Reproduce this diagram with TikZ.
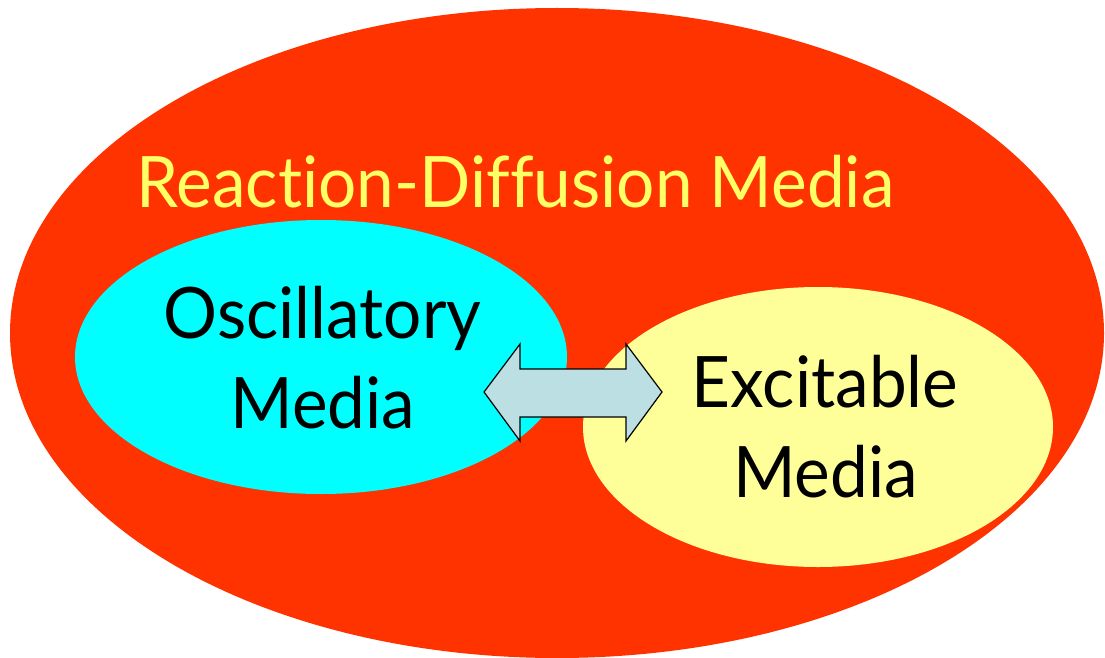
\documentclass[tikz,border=0pt]{standalone}
\usepackage{fontspec}
\usetikzlibrary{shapes.geometric}
\newfontfamily\gillfont[FakeStretch=0.95,Ligatures=NoCommon]{Lato}
\definecolor{rdred}{HTML}{FF3300}
\definecolor{osccyan}{HTML}{00FFFF}
\definecolor{excyellow}{HTML}{FFFF99}
\definecolor{titleyellow}{HTML}{FFFF66}
\definecolor{arrowfill}{HTML}{BBDFE3}
\tikzset{
  region/.style={ellipse, inner sep=0pt, draw=none},
  label text/.style={font=\gillfont\fontsize{71}{80}\selectfont, anchor=base, inner sep=0pt},
}
\begin{document}
\begin{tikzpicture}[x=1pt,y=-1pt]
\useasboundingbox (0,0) rectangle (1105,658);
\node[region, fill=rdred, minimum width=1094pt, minimum height=650pt] (rd) at (557,333) {};
\node[region, fill=osccyan, minimum width=492pt, minimum height=274pt] (osc) at (321,357) {};
\node[region, fill=excyellow, minimum width=470pt, minimum height=280pt] (exc) at (818,427) {};
\draw[fill=arrowfill, line width=1.2pt, line join=miter]
  (484,392) -- (520,344) -- (520,369) -- (626,369) -- (626,344) -- (662,392)
  -- (626,441) -- (626,417) -- (520,417) -- (520,441) -- cycle;
\node[label text, text=titleyellow] (title) at (515.5,207) {Reaction-Diffusion Media};
\node[label text] (osc1) at (322.5,338) {Oscillatory};
\node[label text] (osc2) at (323,428) {Media};
\node[label text] (exc1) at (825,407) {Excitable};
\node[label text] (exc2) at (825.5,497) {Media};
\end{tikzpicture}
\end{document}
